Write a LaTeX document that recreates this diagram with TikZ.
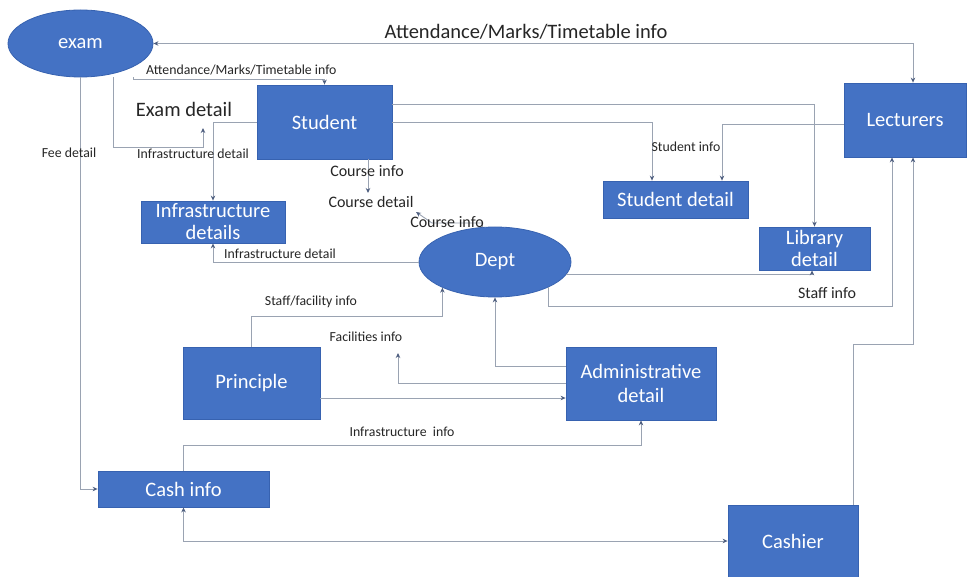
\documentclass[tikz,border=0pt]{standalone}
\usepackage{fontspec}
\setmainfont{Carlito}
\usetikzlibrary{arrows.meta,shapes.geometric}
\definecolor{boxblue}{HTML}{4472C4}
\definecolor{boxedge}{HTML}{3762B0}
\definecolor{linec}{HTML}{9AA3B2}
\definecolor{tipc}{HTML}{4F5F80}
\definecolor{lblc}{HTML}{262626}
\begin{document}
\begin{tikzpicture}[x=1pt,y=-1pt,
  box/.style={rectangle, fill=boxblue, draw=boxedge, line width=0.8pt, text=white,
    font=\fontsize{20.5}{22}\selectfont, align=center, inner sep=0pt},
  ent/.style={ellipse, fill=boxblue, draw=boxedge, line width=0.8pt, text=white,
    font=\fontsize{20.5}{22}\selectfont, inner sep=0pt},
  flow/.style={draw=linec, line width=0.9pt, -{Stealth[length=5pt,width=4.5pt,color=tipc]}},
  biflow/.style={draw=linec, line width=0.9pt, {Stealth[length=5pt,width=4.5pt,color=tipc]}-{Stealth[length=5pt,width=4.5pt,color=tipc]}},
  big/.style={text=lblc, font=\fontsize{20.5}{24}\selectfont, inner sep=0pt},
  mid/.style={text=lblc, font=\fontsize{16}{18}\selectfont, inner sep=0pt},
  small/.style={text=lblc, font=\fontsize{13.8}{16}\selectfont, inner sep=0pt}]
\useasboundingbox[fill=white] (0,0) rectangle (969,577);

% nodes
\node[ent, minimum width=145pt, minimum height=67pt] (exam) at (80.5,43.5) {exam};
\node[box, minimum width=135pt, minimum height=74pt] (student) at (324.5,122) {Student};
\node[box, minimum width=122pt, minimum height=74pt] (lect) at (905,120) {Lecturers};
\node[box, minimum width=145pt, minimum height=37pt] (sdet) at (675.5,199.5) {Student detail};
\node[box, minimum width=111pt, minimum height=43pt] (lib) at (814.5,248.5) {Library\\detail};
\node[box, minimum width=144pt, minimum height=42pt] (infra) at (213,222) {Infrastructure\\details};
\node[ent, minimum width=152pt, minimum height=70pt] (dept) at (495,262) {Dept};
\node[box, minimum width=137pt, minimum height=72pt] (princ) at (251.5,383) {Principle};
\node[box, minimum width=150pt, minimum height=73pt, font=\fontsize{20.5}{24}\selectfont] (admin) at (641,383.5) {Administrative\\detail};
\node[box, minimum width=171pt, minimum height=36pt] (cash) at (183.5,489) {Cash info};
\node[box, minimum width=130pt, minimum height=72pt] (cashier) at (793,541) {Cashier};

% free ends
\coordinate (edt) at (203,128);
\coordinate (cdt) at (368,193);
\coordinate (cda) at (416,212);
\coordinate (fac) at (398,353);
\coordinate (lsa) at ([xshift=-13pt]lect.south);
\coordinate (lsb) at ([xshift=8pt]lect.south);
\coordinate (ltop) at ([xshift=8pt]lect.north);

% connectors
\draw[biflow] (exam.east) -| (ltop);
\draw[flow] (exam.south -| 133,0) -- ++(0,2) -| (student.north);
\draw[flow] (exam.south -| 113,0) |- (edt |- 0,147) -- (edt);
\draw[flow] (exam.south) |- (cash.west);
\draw[flow] (student.west) -| (infra.north);
\draw[flow] (student.south -| cdt) -- (cdt);
\draw[flow] (student.east) -| (sdet.north -| 652,0);
\draw[flow] (student.east |- 0,104) -| (lib.north);
\draw[flow] (lect.west |- 0,124) -| (sdet.north -| 722,0);
\draw[flow] (dept.west) -| (infra.south);
\draw[flow] (dept.110) |- (432,223) -- (cda);
\draw[flow] (dept.-10) -| ([xshift=-2.5pt]lib.south);
\draw[flow] (dept.-25) |- (lsa |- 0,306) -- (lsa);
\draw[flow] (cashier.north -| 853,0) |- (lsb |- 0,344) -- (lsb);
\draw[flow] (princ.north) |- (dept.206 |- 0,316) -- (dept.206);
\draw[flow] (princ.east |- 0,398) -- (admin.west |- 0,398);
\draw[flow] (admin.west) -| (fac);
\draw[flow] (admin.west |- 0,366) -| (dept.south);
\draw[flow] (cash.north) |- (admin.south |- 0,445) -- (admin.south);
\draw[biflow] (cash.south) |- (cashier.west);

% labels
\node[big] (l1) at (526,32) {Attendance/Marks/Timetable info};
\node[small, anchor=west] (l2) at (146,70) {Attendance/Marks/Timetable info};
\node[big] (l3) at (184,109) {Exam detail};
\node[small] (l4) at (69,153) {Fee detail};
\node[small] (l5) at (193,154) {Infrastructure detail};
\node[mid] (l6) at (367,171) {Course info};
\node[mid] (l7) at (371,202) {Course detail};
\node[mid] (l8) at (447,222) {Course info};
\node[small] (l9) at (686,147) {Student info};
\node[small] (l10) at (280,254) {Infrastructure detail};
\node[mid] (l11) at (827,293) {Staff info};
\node[small] (l12) at (311,302) {Staff/facility info};
\node[small] (l13) at (366,337) {Facilities info};
\node[small] (l14) at (402,432) {Infrastructure\ \ info};
\end{tikzpicture}
\end{document}
